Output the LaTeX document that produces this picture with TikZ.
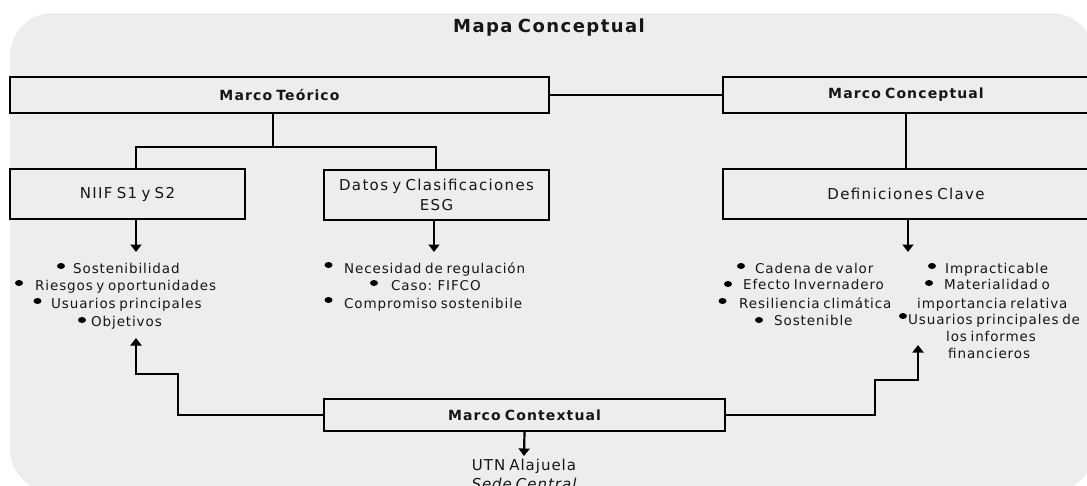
\documentclass[tikz,border=0pt]{standalone}
\usepackage{fontspec}
\setmainfont{DejaVu Sans}
\newfontfamily\mapfont[LetterSpace=6.5,WordSpace=0.7]{DejaVu Sans}
\newfontfamily\boxfont[LetterSpace=9,WordSpace=0.7]{DejaVu Sans}
\newfontfamily\headfont[LetterSpace=8,WordSpace=0.7]{DejaVu Sans}
\usetikzlibrary{arrows.meta}
\definecolor{panelgray}{HTML}{EDEDED}
\definecolor{ink}{HTML}{161616}
\begin{document}
\begin{tikzpicture}[x=1pt,y=-1pt,
  panel/.style={fill=panelgray},
  box/.style={draw=black,line width=1.8pt,inner sep=0pt,text=ink},
  headbox/.style={box,font=\headfont\bfseries\fontsize{14}{16}\selectfont},
  plainbox/.style={box,align=center,font=\boxfont\fontsize{15}{20}\selectfont},
  tree/.style={draw=black,line width=2.2pt},
  link/.style={draw=black,line width=1.5pt},
  arr/.style={draw=black,line width=2.2pt,-{Triangle[width=11pt,length=7.5pt]}},
  item/.style={anchor=base west,inner sep=0pt,text=ink,font=\mapfont\fontsize{13.5}{16}\selectfont},
  dot/.style={fill=black}
]
\useasboundingbox (0,0) rectangle (1087,485);

% rounded grey panel behind the whole map
\fill[panel,rounded corners=43pt] (10,13) rectangle (1094,492);

% title
\node[anchor=base,inner sep=0pt,text=ink,font=\headfont\bfseries\fontsize{18}{21}\selectfont] (title) at (549,32.5) {Mapa Conceptual};

% main boxes
\node[headbox,minimum width=539pt,minimum height=36pt] (MT) at (279.5,95) {Marco Teórico};
\node[headbox,minimum width=366pt,minimum height=36pt] (MC) at (906,95) {Marco Conceptual};
\node[plainbox,minimum width=235pt,minimum height=50pt] (NI) at (127.5,194) {NIIF S1 y S2};
\node[plainbox,minimum width=225pt,minimum height=50pt] (DT) at (436.5,195) {Datos y Clasificaciones\\ESG};
\node[plainbox,minimum width=366pt,minimum height=50pt] (DC) at (906,194) {Definiciones Clave};
\node[headbox,minimum width=401pt,minimum height=32pt] (MX) at (524.5,415) {Marco Contextual};

% junction points and free arrow ends
\coordinate (jT) at (273,147);
\coordinate (jL) at (136,147);
\coordinate (jR) at (436,147);
\coordinate (eNI) at (136,252);
\coordinate (eDT) at (434,252);
\coordinate (eDC) at (908,252);
\coordinate (sL) at (178,374);
\coordinate (uL) at (136,338);
\coordinate (sR) at (875,380);
\coordinate (uR) at (918,345);
\coordinate (eMX) at (524,456);

% connectors
\draw[link] (MT.east) -- (MC.west);
\draw[tree] (MT.south -| jT) -- (jT);
\draw[tree] (NI.north -| jL) -- (jL) -- (jR) -- (DT.north -| jR);
\draw[tree] (MC.south) -- (DC.north);
\draw[arr] (NI.south -| eNI) -- (eNI);
\draw[arr] (DT.south -| eDT) -- (eDT);
\draw[arr] (DC.south -| eDC) -- (eDC);
\draw[arr] (MX.west) -| (sL) -- (sL -| uL) -- (uL);
\draw[arr] (MX.east) -| (sR) -- (sR -| uR) -- (uR);
\draw[arr] (MX.south) -- (eMX);

% NIIF S1 y S2 items
\fill[dot] (61,266) ellipse (4 and 3);
\node[item] (a1) at (73,273) {Sostenibilidad};
\fill[dot] (19,283) ellipse (4 and 3);
\node[item] (a2) at (35,290) {Riesgos y oportunidades};
\fill[dot] (37.5,301) ellipse (4 and 3);
\node[item] (a3) at (51,308) {Usuarios principales};
\fill[dot] (82,320) ellipse (4 and 3);
\node[item] (a4) at (91,326) {Objetivos};

% ESG items
\fill[dot] (328.5,265) ellipse (4 and 3);
\node[item] (b1) at (344,273) {Necesidad de regulación};
\fill[dot] (374,283) ellipse (4 and 3);
\node[item] (b2) at (391,290) {Caso: FIFCO};
\fill[dot] (328.5,300) ellipse (4 and 3);
\node[item] (b3) at (344,308) {Compromiso sostenibile};

% key definitions, first column
\fill[dot] (741,266) ellipse (4 and 3);
\node[item] (c1) at (755,273) {Cadena de valor};
\fill[dot] (728,284) ellipse (4 and 3);
\node[item] (c2) at (743,289.5) {Efecto Invernadero};
\fill[dot] (722.5,301) ellipse (4 and 3);
\node[item] (c3) at (739,308) {Resiliencia climática};
\fill[dot] (759,320) ellipse (4 and 3);
\node[item] (c4) at (774,325) {Sostenible};

% key definitions, second column
\fill[dot] (932,266) ellipse (4 and 3);
\node[item] (d1) at (945,273) {Impracticable};
\fill[dot] (929,283) ellipse (4 and 3);
\node[item] (d2) at (944,289) {Materialidad o};
\node[item] (d3) at (917,308) {importancia relativa};
\fill[dot] (903,316) ellipse (4 and 3);
\node[item] (d4) at (908,324) {Usuarios principales de};
\node[item] (d5) at (946,341) {los informes};
\node[item] (d6) at (948,358) {financieros};

% campus label under the contextual frame
\node[anchor=base,inner sep=0pt,text=ink,font=\mapfont\fontsize{15}{18}\selectfont] (utn) at (524,470) {UTN Alajuela};
\node[anchor=base,inner sep=0pt,text=ink,font=\mapfont\itshape\fontsize{15}{18}\selectfont] (sede) at (524,489) {Sede Central};
\end{tikzpicture}
\end{document}
